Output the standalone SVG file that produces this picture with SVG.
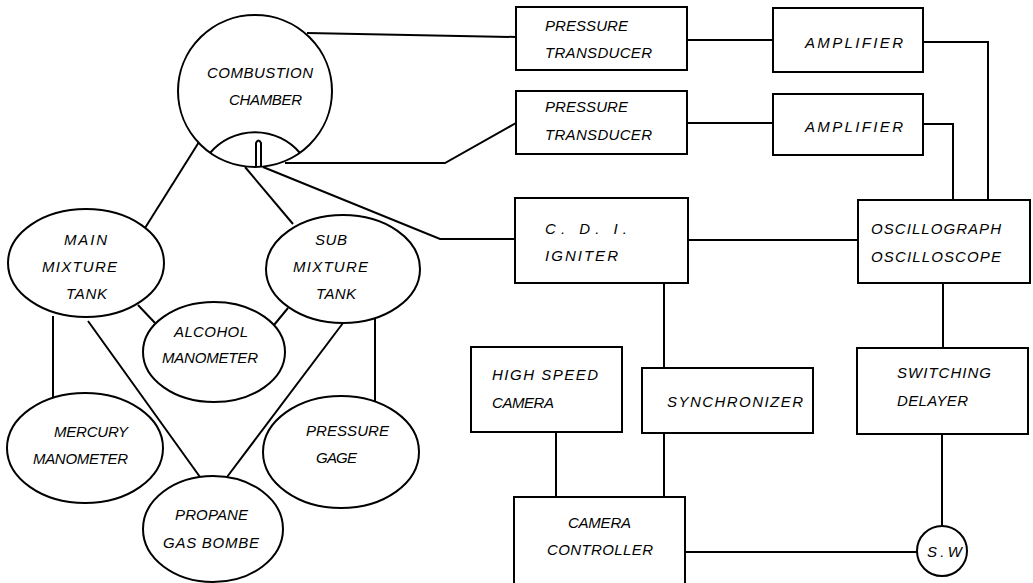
<svg xmlns="http://www.w3.org/2000/svg" width="1033" height="583" viewBox="0 0 1033 583">
<style>
.s{fill:none;stroke:#000;stroke-width:2}
.n{fill:#fff;stroke:#000;stroke-width:2}
.t{font-family:"Liberation Sans",Arial,sans-serif;font-style:italic;font-size:15px;fill:#000;lengthAdjust:spacing}
</style>
<rect width="1033" height="583" fill="#fff"/>
<g id="connectors" class="s">
<polyline points="307,33 516,37"/>
<polyline points="285,163 445,163 516,123"/>
<polyline points="263,167 440,239 515,239"/>
<line x1="199" y1="142" x2="145" y2="228"/>
<line x1="245" y1="167" x2="293" y2="224"/>
<line x1="138" y1="305" x2="155" y2="323"/>
<line x1="288" y1="308" x2="274" y2="325"/>
<line x1="53" y1="316" x2="53" y2="397"/>
<line x1="375" y1="317" x2="375" y2="402"/>
<line x1="88" y1="321" x2="200" y2="477"/>
<line x1="343" y1="323" x2="227" y2="477"/>
<line x1="688" y1="40" x2="773" y2="40"/>
<line x1="687" y1="123" x2="773" y2="123"/>
<polyline points="923,42 988,42 988,200"/>
<polyline points="923,124 953,124 953,200"/>
<line x1="688" y1="240" x2="858" y2="240"/>
<line x1="664" y1="283" x2="664" y2="368"/>
<line x1="556" y1="432" x2="556" y2="497"/>
<line x1="664" y1="433" x2="664" y2="497"/>
<line x1="943" y1="283" x2="943" y2="348"/>
<line x1="942" y1="434" x2="942" y2="526"/>
<line x1="685" y1="552" x2="917" y2="552"/>
</g>
<g id="combustion-chamber">
<ellipse class="n" cx="255" cy="91" rx="77" ry="76"/>
<path class="s" d="M210,153 A59,59 0 0 1 300,153"/>
<path class="s" d="M256,166 L256,143 Q258.5,138 261,143 L261,166"/>
<text class="t" x="207" y="78" textLength="106">COMBUSTION</text>
<text class="t" x="229" y="105" textLength="73">CHAMBER</text>
</g>
<g id="main-mixture-tank">
<ellipse class="n" cx="86" cy="263" rx="78" ry="54"/>
<text class="t" x="64" y="245" textLength="43">MAIN</text>
<text class="t" x="42" y="272" textLength="75">MIXTURE</text>
<text class="t" x="66" y="299" textLength="41">TANK</text>
</g>
<g id="sub-mixture-tank">
<ellipse class="n" cx="343" cy="269" rx="77" ry="54"/>
<text class="t" x="315" y="245" textLength="32">SUB</text>
<text class="t" x="293" y="272" textLength="75">MIXTURE</text>
<text class="t" x="316" y="299" textLength="40">TANK</text>
</g>
<g id="alcohol-manometer">
<ellipse class="n" cx="214" cy="352" rx="71" ry="50"/>
<text class="t" x="174" y="337" textLength="74">ALCOHOL</text>
<text class="t" x="162" y="363" textLength="96">MANOMETER</text>
</g>
<g id="mercury-manometer">
<ellipse class="n" cx="85" cy="448" rx="78" ry="55"/>
<text class="t" x="54" y="437" textLength="74">MERCURY</text>
<text class="t" x="33" y="464" textLength="95">MANOMETER</text>
</g>
<g id="pressure-gage">
<ellipse class="n" cx="341" cy="452" rx="78" ry="56"/>
<text class="t" x="306" y="436" textLength="83">PRESSURE</text>
<text class="t" x="316" y="463" textLength="41">GAGE</text>
</g>
<g id="propane-gas-bombe">
<ellipse class="n" cx="213" cy="529" rx="70" ry="53"/>
<text class="t" x="175" y="520" textLength="73">PROPANE</text>
<text class="t" x="163" y="548" textLength="96">GAS BOMBE</text>
</g>
<g id="pressure-transducer-1">
<rect class="n" x="516" y="7" width="171" height="63"/>
<text class="t" x="545" y="31" textLength="83">PRESSURE</text>
<text class="t" x="545" y="58" textLength="107">TRANSDUCER</text>
</g>
<g id="pressure-transducer-2">
<rect class="n" x="516" y="91" width="171" height="63"/>
<text class="t" x="545" y="112" textLength="83">PRESSURE</text>
<text class="t" x="545" y="140" textLength="107">TRANSDUCER</text>
</g>
<g id="amplifier-1">
<rect class="n" x="773" y="8" width="150" height="64"/>
<text class="t" x="805" y="48" textLength="98">AMPLIFIER</text>
</g>
<g id="amplifier-2">
<rect class="n" x="773" y="94" width="150" height="61"/>
<text class="t" x="805" y="132" textLength="98">AMPLIFIER</text>
</g>
<g id="cdi-igniter">
<rect class="n" x="515" y="198" width="173" height="85"/>
<text class="t" x="545" y="234" textLength="82">C.  D.  I.</text>
<text class="t" x="545" y="261" textLength="73">IGNITER</text>
</g>
<g id="oscillograph">
<rect class="n" x="858" y="200" width="172" height="83"/>
<text class="t" x="871" y="234" textLength="130">OSCILLOGRAPH</text>
<text class="t" x="871" y="262" textLength="130">OSCILLOSCOPE</text>
</g>
<g id="high-speed-camera">
<rect class="n" x="471" y="347" width="151" height="85"/>
<text class="t" x="492" y="380" textLength="106">HIGH SPEED</text>
<text class="t" x="492" y="408" textLength="62">CAMERA</text>
</g>
<g id="synchronizer">
<rect class="n" x="642" y="368" width="171" height="65"/>
<text class="t" x="667" y="407" textLength="136">SYNCHRONIZER</text>
</g>
<g id="switching-delayer">
<rect class="n" x="857" y="348" width="171" height="86"/>
<text class="t" x="897" y="378" textLength="94">SWITCHING</text>
<text class="t" x="897" y="406" textLength="71">DELAYER</text>
</g>
<g id="camera-controller">
<path class="n" d="M514,590 L514,497 L685,497 L685,590"/>
<text class="t" x="568" y="528" textLength="63">CAMERA</text>
<text class="t" x="547" y="555" textLength="106">CONTROLLER</text>
</g>
<g id="switch">
<circle class="n" cx="942" cy="551" r="25"/>
<text class="t" x="927" y="557" textLength="35">S.W</text>
</g>
</svg>
